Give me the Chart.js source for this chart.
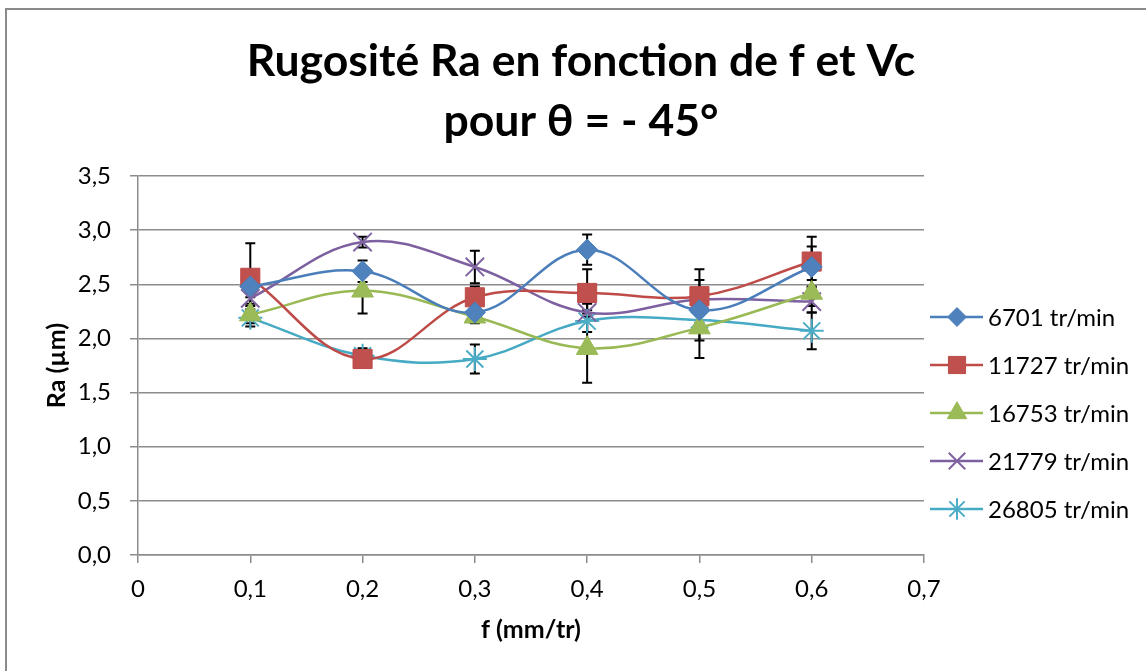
<!DOCTYPE html>
<html lang="fr">
<head>
<meta charset="utf-8">
<title>Rugosité Ra en fonction de f et Vc</title>
<script src="https://cdn.jsdelivr.net/npm/chart.js@4.4.1/dist/chart.umd.min.js"></script>
<style>
  html, body { margin: 0; padding: 0; background: #fff; }
  #wrap { width: 1146px; height: 671px; position: relative; overflow: hidden; }
</style>
</head>
<body>
<div id="wrap"><canvas id="rugChart" width="1146" height="671"></canvas></div>
<script>
// avance f (mm/tr)
const avances = [0.1, 0.2, 0.3, 0.4, 0.5, 0.6];

// Ra mesuré (µm) pour chaque vitesse de rotation
const ra6701  = [2.48, 2.62, 2.24, 2.82, 2.26, 2.66];
const ra11727 = [2.56, 1.81, 2.38, 2.42, 2.39, 2.71];
const ra16753 = [2.22, 2.44, 2.20, 1.91, 2.10, 2.42];
const ra21779 = [2.37, 2.89, 2.66, 2.24, 2.36, 2.34];
const ra26805 = [2.19, 1.84, 1.81, 2.16, 2.17, 2.07];

// écarts (barres d'erreur +/-)
const err6701  = [0.10, 0.10, 0.06, 0.14, 0.28, 0.19];
const err11727 = [0.32, 0.06, 0.10, 0.22, 0.25, 0.23];
const err16753 = [0.08, 0.21, 0.06, 0.32, 0.28, 0.12];
const err21779 = [0.05, 0.05, 0.15, 0.08, 0.10, 0.10];
const err26805 = [0.08, 0.07, 0.135, 0.10, 0.08, 0.17];

const seriesNames = ['6701 tr/min', '11727 tr/min', '16753 tr/min', '21779 tr/min', '26805 tr/min'];

const xTicks = [0, 0.1, 0.2, 0.3, 0.4, 0.5, 0.6, 0.7];
const xTickLabels = ['0', '0,1', '0,2', '0,3', '0,4', '0,5', '0,6', '0,7'];
const yTicks = [0, 0.5, 1, 1.5, 2, 2.5, 3, 3.5];
const yTickLabels = ['0,0', '0,5', '1,0', '1,5', '2,0', '2,5', '3,0', '3,5'];

const titleLines = ['Rugosité Ra en fonction de f et Vc', 'pour θ = - 45°'];

// styles Excel 2007
const lineColors = ['#4A7EBB', '#BE4B48', '#98B954', '#7D60A0', '#46AAC5'];
const fillColors = ['#4F81BD', '#C0504D', '#9BBB59', '#8064A2', '#4BACC6'];
const markers = ['rectRot', 'rect', 'triangle', 'crossRot', 'star'];
const markerRadius = [10.5, 13.5, 12.5, 13, 12];
const gridColor = '#8c8c8c';
const fontFamily = 'Lato, "Open Sans", sans-serif';

const allRa = [ra6701, ra11727, ra16753, ra21779, ra26805];
const allErr = [err6701, err11727, err16753, err21779, err26805];

function toPoints(values) {
    return values.map((v, i) => ({ x: avances[i], y: v }));
}

const datasets = allRa.map((vals, i) => {
    const cross = markers[i] === 'crossRot' || markers[i] === 'star';
    return {
        label: seriesNames[i],
        data: toPoints(vals),
        errors: allErr[i],
        showLine: true,
        tension: 0.38,
        borderColor: lineColors[i],
        borderWidth: 2.5,
        pointStyle: markers[i],
        pointRadius: markerRadius[i],
        pointHoverRadius: markerRadius[i],
        pointBackgroundColor: fillColors[i],
        pointBorderColor: cross ? fillColors[i] : lineColors[i],
        pointBorderWidth: cross ? 2 : 1
    };
});

// cadre gris autour du graphique
const frame = {
    id: 'frame',
    beforeDraw(chart) {
        const ctx = chart.ctx;
        ctx.save();
        ctx.strokeStyle = '#8a8a8a';
        ctx.lineWidth = 2;
        ctx.strokeRect(6, 9, 1400, 900);
        ctx.restore();
    }
};

// titre sur deux lignes, centré sur la zone complète
const titleDraw = {
    id: 'titleDraw',
    afterDraw(chart) {
        const ctx = chart.ctx;
        ctx.save();
        ctx.fillStyle = '#000';
        ctx.font = 'bold 44.5px ' + fontFamily;
        ctx.textAlign = 'center';
        ctx.textBaseline = 'alphabetic';
        titleLines.forEach((t, i) => ctx.fillText(t, 581, 76 + i * 60));
        ctx.restore();
    }
};

// barres d'erreur, dessinées sous les courbes
const errorBars = {
    id: 'errorBars',
    beforeDatasetsDraw(chart) {
        const ctx = chart.ctx;
        const xs = chart.scales.x;
        const ys = chart.scales.y;
        ctx.save();
        ctx.strokeStyle = '#000';
        ctx.lineWidth = 2;
        chart.data.datasets.forEach(ds => {
            ds.data.forEach((pt, i) => {
                const e = ds.errors[i];
                const px = xs.getPixelForValue(pt.x);
                const top = ys.getPixelForValue(pt.y + e);
                const bot = ys.getPixelForValue(pt.y - e);
                ctx.beginPath();
                ctx.moveTo(px, top);
                ctx.lineTo(px, bot);
                ctx.moveTo(px - 5, top);
                ctx.lineTo(px + 5, top);
                ctx.moveTo(px - 5, bot);
                ctx.lineTo(px + 5, bot);
                ctx.stroke();
            });
        });
        ctx.restore();
    }
};

// légende à droite : trait + marqueur
const sideLegend = {
    id: 'sideLegend',
    afterDraw(chart) {
        const ctx = chart.ctx;
        const x0 = chart.chartArea.right + 6;
        ctx.save();
        chart.data.datasets.forEach((ds, i) => {
            const y = 317 + i * 48;
            ctx.strokeStyle = ds.borderColor;
            ctx.lineWidth = 2.5;
            ctx.beginPath();
            ctx.moveTo(x0, y);
            ctx.lineTo(x0 + 53, y);
            ctx.stroke();

            ctx.fillStyle = ds.pointBackgroundColor;
            ctx.strokeStyle = ds.pointBorderColor;
            ctx.lineWidth = ds.pointBorderWidth;
            Chart.helpers.drawPoint(ctx, {
                pointStyle: ds.pointStyle,
                radius: ds.pointRadius * 0.9,
                rotation: 0,
                borderWidth: ds.pointBorderWidth
            }, x0 + 27, y);

            ctx.fillStyle = '#000';
            ctx.font = '24px ' + fontFamily;
            ctx.textAlign = 'left';
            ctx.textBaseline = 'middle';
            ctx.fillText(ds.label, x0 + 58, y + 1);
        });
        ctx.restore();
    }
};

new Chart(document.getElementById('rugChart'), {
    type: 'scatter',
    data: { datasets: datasets },
    plugins: [frame, errorBars, titleDraw, sideLegend],
    options: {
        responsive: false,
        devicePixelRatio: 1,
        animation: false,
        layout: { padding: { top: 176, right: 222, bottom: 0, left: 0 } },
        plugins: {
            legend: { display: false },
            title: { display: false },
            tooltip: { enabled: false }
        },
        scales: {
            x: {
                type: 'linear',
                min: 0,
                max: 0.7,
                afterBuildTicks: s => { s.ticks = xTicks.map(v => ({ value: v })); },
                afterFit: s => { s.height = 116; },
                ticks: {
                    callback: (v, i) => xTickLabels[i],
                    color: '#000',
                    font: { family: fontFamily, size: 24 },
                    padding: 12,
                    maxRotation: 0,
                    autoSkip: false
                },
                grid: { drawOnChartArea: false, drawTicks: true, tickLength: 8, color: gridColor, lineWidth: 1.5 },
                border: { color: gridColor, width: 1.5 },
                title: {
                    display: true,
                    text: 'f (mm/tr)',
                    color: '#000',
                    font: { family: fontFamily, size: 25, weight: 'bold' },
                    padding: { top: 0, bottom: 26 }
                }
            },
            y: {
                type: 'linear',
                min: 0,
                max: 3.5,
                afterBuildTicks: s => { s.ticks = yTicks.map(v => ({ value: v })); },
                afterFit: s => { s.width = 138; },
                ticks: {
                    callback: (v, i) => yTickLabels[i],
                    color: '#000',
                    font: { family: fontFamily, size: 24 },
                    padding: 19
                },
                grid: { drawOnChartArea: true, drawTicks: true, tickLength: 8, color: gridColor, lineWidth: 1.5 },
                border: { color: gridColor, width: 1.5 },
                title: {
                    display: true,
                    text: 'Ra (µm)',
                    color: '#000',
                    font: { family: fontFamily, size: 25, weight: 'bold' },
                    padding: { top: 42, bottom: 0 }
                }
            }
        }
    }
});
</script>
</body>
</html>
